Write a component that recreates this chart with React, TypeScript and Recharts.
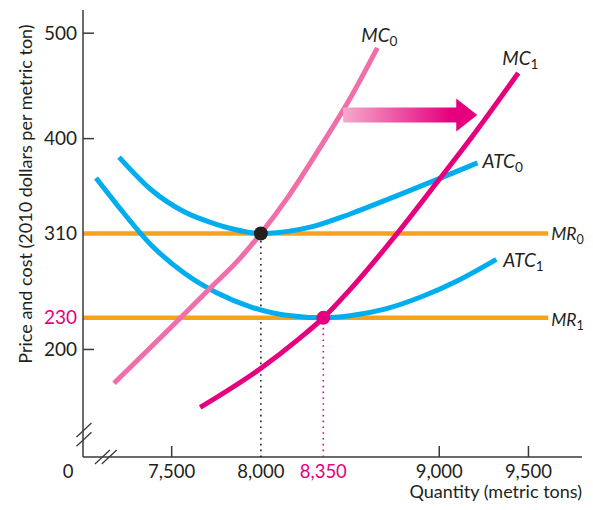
import React from 'react';
import { LineChart, Line, XAxis, YAxis, ReferenceLine, ReferenceDot } from 'recharts';

type Pt = { q: number; p: number };

const FONT = 'Lato, "Noto Sans", sans-serif';
const INK = '#231f20';
const AXIS = '#3a3a3a';
const HIGHLIGHT = '#e6007e';
const BLUE = '#00aeef';
const ORANGE = '#f7a21b';
const PINK = '#f06ea9';

// Axis ticks
const xTicks = [7003, 7500, 8000, 8350, 9000, 9500];
const xTickLabels = ['0', '7,500', '8,000', '8,350', '9,000', '9,500'];
const xMarked = [7500, 9000, 9500];
const xHighlighted = [8350];

const yTicks = [200, 230, 310, 400, 500];
const yTickLabels = ['200', '230', '310', '400', '500'];
const yMarked = [200, 400, 500];
const yHighlighted = [230];

// plotted window and drawn axis extent
const xDomain: [number, number] = [7003, 9817];
const xAxisEnd = 9800;
const yDomain: [number, number] = [98, 522];

// Series (quantity in metric tons, price in 2010 dollars per metric ton)
const atc0: Pt[] = [
  { q: 7205, p: 382.5 }, { q: 7385, p: 351.5 }, { q: 7570, p: 330.6 }, { q: 7755, p: 318.5 },
  { q: 7850, p: 314 }, { q: 8000, p: 310 }, { q: 8150, p: 312 }, { q: 8300, p: 317 },
  { q: 8500, p: 328.5 }, { q: 8750, p: 345 }, { q: 9000, p: 362 }, { q: 9214, p: 377 },
];
const atc1: Pt[] = [
  { q: 7076, p: 362.6 }, { q: 7194, p: 337.2 }, { q: 7385, p: 299.1 }, { q: 7570, p: 272.5 },
  { q: 7755, p: 253.5 }, { q: 7946, p: 240.2 }, { q: 8131, p: 232.6 }, { q: 8350, p: 230 },
  { q: 8500, p: 232 }, { q: 8700, p: 238.5 }, { q: 8900, p: 250 }, { q: 9100, p: 265 },
  { q: 9320, p: 285.5 },
];
const mc0: Pt[] = [
  { q: 7177, p: 168 }, { q: 7418, p: 208 }, { q: 7553, p: 230.5 }, { q: 7721, p: 259 },
  { q: 7870, p: 284 }, { q: 8000, p: 310 }, { q: 8150, p: 344 }, { q: 8350, p: 396.5 },
  { q: 8500, p: 438 }, { q: 8653, p: 486 },
];
const mc1: Pt[] = [
  { q: 7660, p: 145 }, { q: 7991, p: 181 }, { q: 8220, p: 211 }, { q: 8350, p: 230 },
  { q: 8501, p: 257 }, { q: 8764, p: 310 }, { q: 8994, p: 360 }, { q: 9185, p: 402 },
  { q: 9443, p: 462.3 },
];
const mr0: Pt[] = [{ q: 7003, p: 310 }, { q: 9611, p: 310 }];
const mr1: Pt[] = [{ q: 7003, p: 230 }, { q: 9611, p: 230 }];

// Equilibria
const eq0: Pt = { q: 8000, p: 310 };
const eq1: Pt = { q: 8350, p: 230 };

// Shift arrow
const shiftArrow: Pt[] = [{ q: 8461, p: 422.5 }, { q: 9213, p: 422.5 }];

// Axis break positions
const yBreak: Pt = { q: 7003, p: 119.2 };
const xBreak: Pt = { q: 7131, p: 98 };

const last = (a: Pt[]) => a[a.length - 1];

const XTick = (props: any) => {
  const { x, y, payload, index } = props;
  const v = payload.value;
  const isOrigin = index === 0;
  return (
    <g>
      {xMarked.includes(v) && (
        <line x1={x} x2={x} y1={y} y2={y - 11} stroke={AXIS} strokeWidth={1.5} />
      )}
      <text
        x={isOrigin ? x - 15 : x}
        y={y + 21}
        textAnchor="middle"
        fontFamily={FONT}
        fontSize={18.5}
        fill={xHighlighted.includes(v) ? HIGHLIGHT : INK}
      >
        {xTickLabels[index]}
      </text>
    </g>
  );
};

const YTick = (props: any) => {
  const { x, y, payload, index } = props;
  const v = payload.value;
  return (
    <g>
      {yMarked.includes(v) && (
        <line x1={x} x2={x + 11} y1={y} y2={y} stroke={AXIS} strokeWidth={1.5} />
      )}
      <text
        x={x - 6}
        y={y + 6.5}
        textAnchor="end"
        fontFamily={FONT}
        fontSize={19}
        fill={yHighlighted.includes(v) ? HIGHLIGHT : INK}
      >
        {yTickLabels[index]}
      </text>
    </g>
  );
};

const curveLabel = (main: string, sub: string, dx: number, dy: number, size = 19) => (props: any) => {
  const { cx, cy } = props;
  return (
    <text x={cx + dx} y={cy + dy} fontFamily={FONT} fontSize={size} fill={INK}>
      <tspan fontStyle="italic">{main}</tspan>
      <tspan fontSize={size * 0.72} dy={4}>{sub}</tspan>
    </text>
  );
};

const ArrowShape = (props: any) => {
  const { x1, x2, y1 } = props;
  const left = Math.min(x1, x2);
  const tip = Math.max(x1, x2);
  const base = tip - 21;
  const y = y1;
  const pts = [
    [left, y - 7.5], [base, y - 7.5], [base, y - 16.5], [tip, y],
    [base, y + 16.5], [base, y + 7.5], [left, y + 7.5],
  ].map((p) => p.join(',')).join(' ');
  return (
    <g>
      <defs>
        <linearGradient id="shiftGrad" x1="0" x2="1" y1="0" y2="0">
          <stop offset="0" stopColor="#f5aacb" />
          <stop offset="0.8" stopColor="#e6007e" />
          <stop offset="1" stopColor="#e6007e" />
        </linearGradient>
      </defs>
      <polygon points={pts} fill="url(#shiftGrad)" />
    </g>
  );
};

const YBreakShape = (props: any) => {
  const { cx, cy } = props;
  return (
    <g stroke={AXIS} strokeWidth={1.3}>
      <line x1={cx + 1 - 7.5} y1={cy - 4.6 + 7} x2={cx + 1 + 7.5} y2={cy - 4.6 - 7} />
      <line x1={cx + 1 - 7.5} y1={cy + 4.6 + 7} x2={cx + 1 + 7.5} y2={cy + 4.6 - 7} />
    </g>
  );
};

const XBreakShape = (props: any) => {
  const { cx, cy } = props;
  return (
    <g stroke={AXIS} strokeWidth={1.3}>
      <line x1={cx - 3.4 - 7.5} y1={cy + 7} x2={cx - 3.4 + 7.5} y2={cy - 7} />
      <line x1={cx + 3.4 - 7.5} y1={cy + 7} x2={cx + 3.4 + 7.5} y2={cy - 7} />
    </g>
  );
};

const XLabel = (props: any) => {
  const { viewBox } = props;
  return (
    <text
      x={viewBox.x + viewBox.width - 3}
      y={viewBox.y + 41}
      textAnchor="end"
      fontFamily={FONT}
      fontSize={18}
      fill={INK}
    >
      Quantity (metric tons)
    </text>
  );
};

const YLabel = (props: any) => {
  const { viewBox } = props;
  const cx = viewBox.x + 24;
  const cy = viewBox.y + 184;
  return (
    <text
      x={cx}
      y={cy}
      transform={`rotate(-90, ${cx}, ${cy})`}
      textAnchor="middle"
      fontFamily={FONT}
      fontSize={18}
      fill={INK}
    >
      Price and cost  (2010 dollars per metric ton)
    </text>
  );
};

export default function App() {
  return (
    <LineChart width={577} height={494} margin={{ top: 2, right: 0, bottom: 0, left: 0 }}>
      <XAxis
        dataKey="q"
        type="number"
        domain={xDomain}
        ticks={xTicks}
        interval={0}
        height={45}
        tickSize={0}
        tickMargin={0}
        tickLine={false}
        tick={<XTick />}
        axisLine={false}
        label={<XLabel />}
      />
      <YAxis
        dataKey="p"
        type="number"
        domain={yDomain}
        ticks={yTicks}
        interval={0}
        width={75}
        tickSize={0}
        tickMargin={0}
        tickLine={false}
        tick={<YTick />}
        axisLine={{ stroke: AXIS, strokeWidth: 1.5 }}
        label={<YLabel />}
      />

      <ReferenceLine
        segment={[{ x: xDomain[0], y: yDomain[0] }, { x: xAxisEnd, y: yDomain[0] }]}
        stroke={AXIS}
        strokeWidth={1.5}
        ifOverflow="visible"
      />

      <ReferenceLine
        segment={[{ x: eq0.q, y: yDomain[0] }, { x: eq0.q, y: eq0.p }]}
        stroke={INK}
        strokeWidth={1.6}
        strokeDasharray="1.6 4.2"
        ifOverflow="visible"
      />
      <ReferenceLine
        segment={[{ x: eq1.q, y: yDomain[0] }, { x: eq1.q, y: eq1.p }]}
        stroke={HIGHLIGHT}
        strokeWidth={1.6}
        strokeDasharray="1.6 4.2"
        ifOverflow="visible"
      />

      <Line data={mr0} dataKey="p" type="linear" stroke={ORANGE} strokeWidth={4.5} dot={false} isAnimationActive={false} />
      <Line data={mr1} dataKey="p" type="linear" stroke={ORANGE} strokeWidth={4.5} dot={false} isAnimationActive={false} />
      <Line data={atc0} dataKey="p" type="monotone" stroke={BLUE} strokeWidth={5} dot={false} isAnimationActive={false} />
      <Line data={atc1} dataKey="p" type="monotone" stroke={BLUE} strokeWidth={5} dot={false} isAnimationActive={false} />
      <Line data={mc0} dataKey="p" type="monotone" stroke={PINK} strokeWidth={5} dot={false} isAnimationActive={false} />
      <Line data={mc1} dataKey="p" type="monotone" stroke={HIGHLIGHT} strokeWidth={5} dot={false} isAnimationActive={false} />

      <ReferenceLine
        segment={[{ x: shiftArrow[0].q, y: shiftArrow[0].p }, { x: shiftArrow[1].q, y: shiftArrow[1].p }]}
        shape={<ArrowShape />}
        ifOverflow="visible"
      />

      <ReferenceDot x={eq0.q} y={eq0.p} r={7} fill={INK} stroke="none" ifOverflow="visible" />
      <ReferenceDot x={eq1.q} y={eq1.p} r={7} fill={HIGHLIGHT} stroke="none" ifOverflow="visible" />

      <ReferenceDot x={last(mc0).q} y={last(mc0).p} shape={curveLabel('MC', '0', -16, -6)} ifOverflow="visible" />
      <ReferenceDot x={last(mc1).q} y={last(mc1).p} shape={curveLabel('MC', '1', -16, -8)} ifOverflow="visible" />
      <ReferenceDot x={last(atc0).q} y={last(atc0).p} shape={curveLabel('ATC', '0', 5, 5)} ifOverflow="visible" />
      <ReferenceDot x={last(atc1).q} y={last(atc1).p} shape={curveLabel('ATC', '1', 7, 8)} ifOverflow="visible" />
      <ReferenceDot x={last(mr0).q} y={last(mr0).p} shape={curveLabel('MR', '0', 3, 6.5, 17.5)} ifOverflow="visible" />
      <ReferenceDot x={last(mr1).q} y={last(mr1).p} shape={curveLabel('MR', '1', 3, 8, 17.5)} ifOverflow="visible" />

      <ReferenceDot x={yBreak.q} y={yBreak.p} shape={<YBreakShape />} ifOverflow="visible" />
      <ReferenceDot x={xBreak.q} y={xBreak.p} shape={<XBreakShape />} ifOverflow="visible" />
    </LineChart>
  );
}
